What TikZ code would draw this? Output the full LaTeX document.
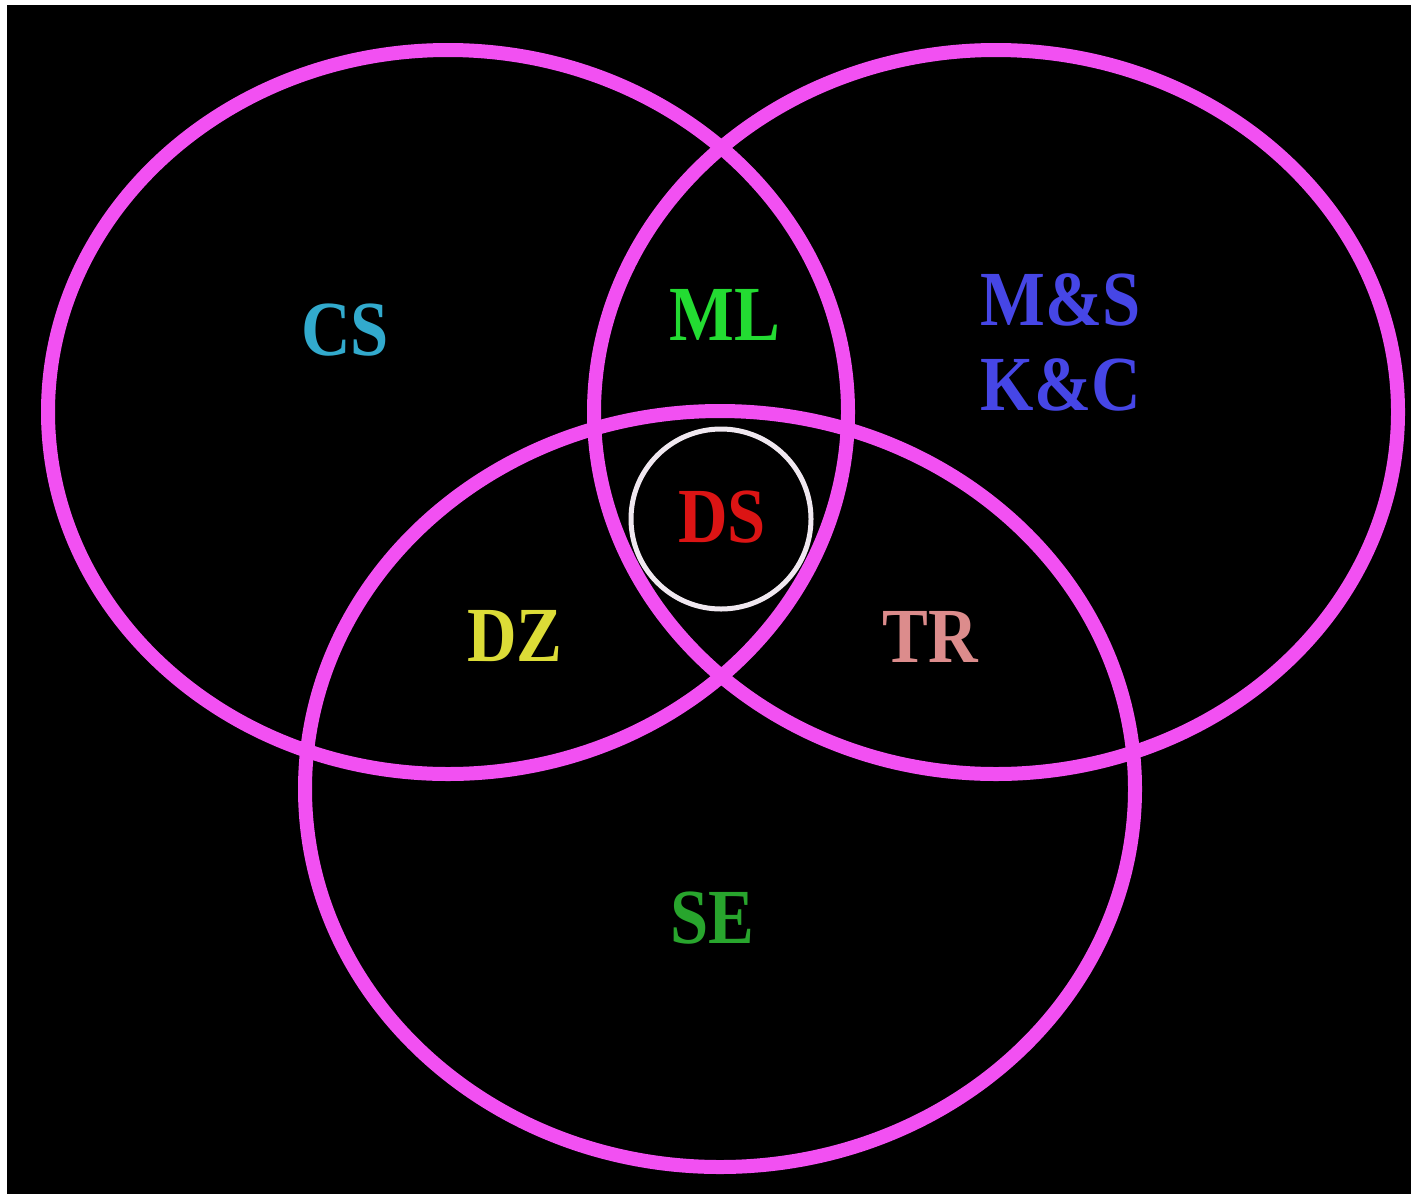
\documentclass[tikz,border=0pt]{standalone}
\usepackage{fontspec}
\setmainfont{Liberation Serif}[FakeStretch=0.88]
\definecolor{ringpink}{RGB}{242,80,242}
\definecolor{cscol}{RGB}{50,170,205}
\definecolor{mlcol}{RGB}{35,220,50}
\definecolor{mscol}{RGB}{70,70,230}
\definecolor{dscol}{RGB}{220,20,20}
\definecolor{dzcol}{RGB}{220,220,55}
\definecolor{trcol}{RGB}{220,140,140}
\definecolor{secol}{RGB}{40,165,45}
\begin{document}
\begin{tikzpicture}[x=0.5pt,y=-0.5pt,
		ring/.style = {draw=ringpink, line width=7pt},
		every node/.style = {align=center,
			font=\fontsize{39}{42.5}\selectfont\bfseries}]
		\fill[white] (0,0) rectangle (1411,1194);
		\fill[black] (7,5) rectangle (1411,1194);
		\draw[ring] (448,412) ellipse [x radius=400, y radius=362];
		\draw[ring] (996,412) ellipse [x radius=402, y radius=362];
		\draw[ring] (720,789) ellipse [x radius=415, y radius=378];
		\draw[draw={rgb,255:red,240;green,232;blue,240}, line width=2.5pt] (721,519) circle [radius=90];
		\node[text=cscol] (cs) at (345,330) {CS};
		\node[text=mlcol] (ml) at (725,315) {ML};
		\node[text=mscol] (ms) at (1061,342) {M\&S\\K\&C};
		\node[text=dscol] (ds) at (722,517) {DS};
		\node[text=dzcol] (dz) at (515,636) {DZ};
		\node[text=trcol] (tr) at (930,637) {TR};
		\node[text=secol] (se) at (712,918) {SE};
	\end{tikzpicture}
\end{document}
